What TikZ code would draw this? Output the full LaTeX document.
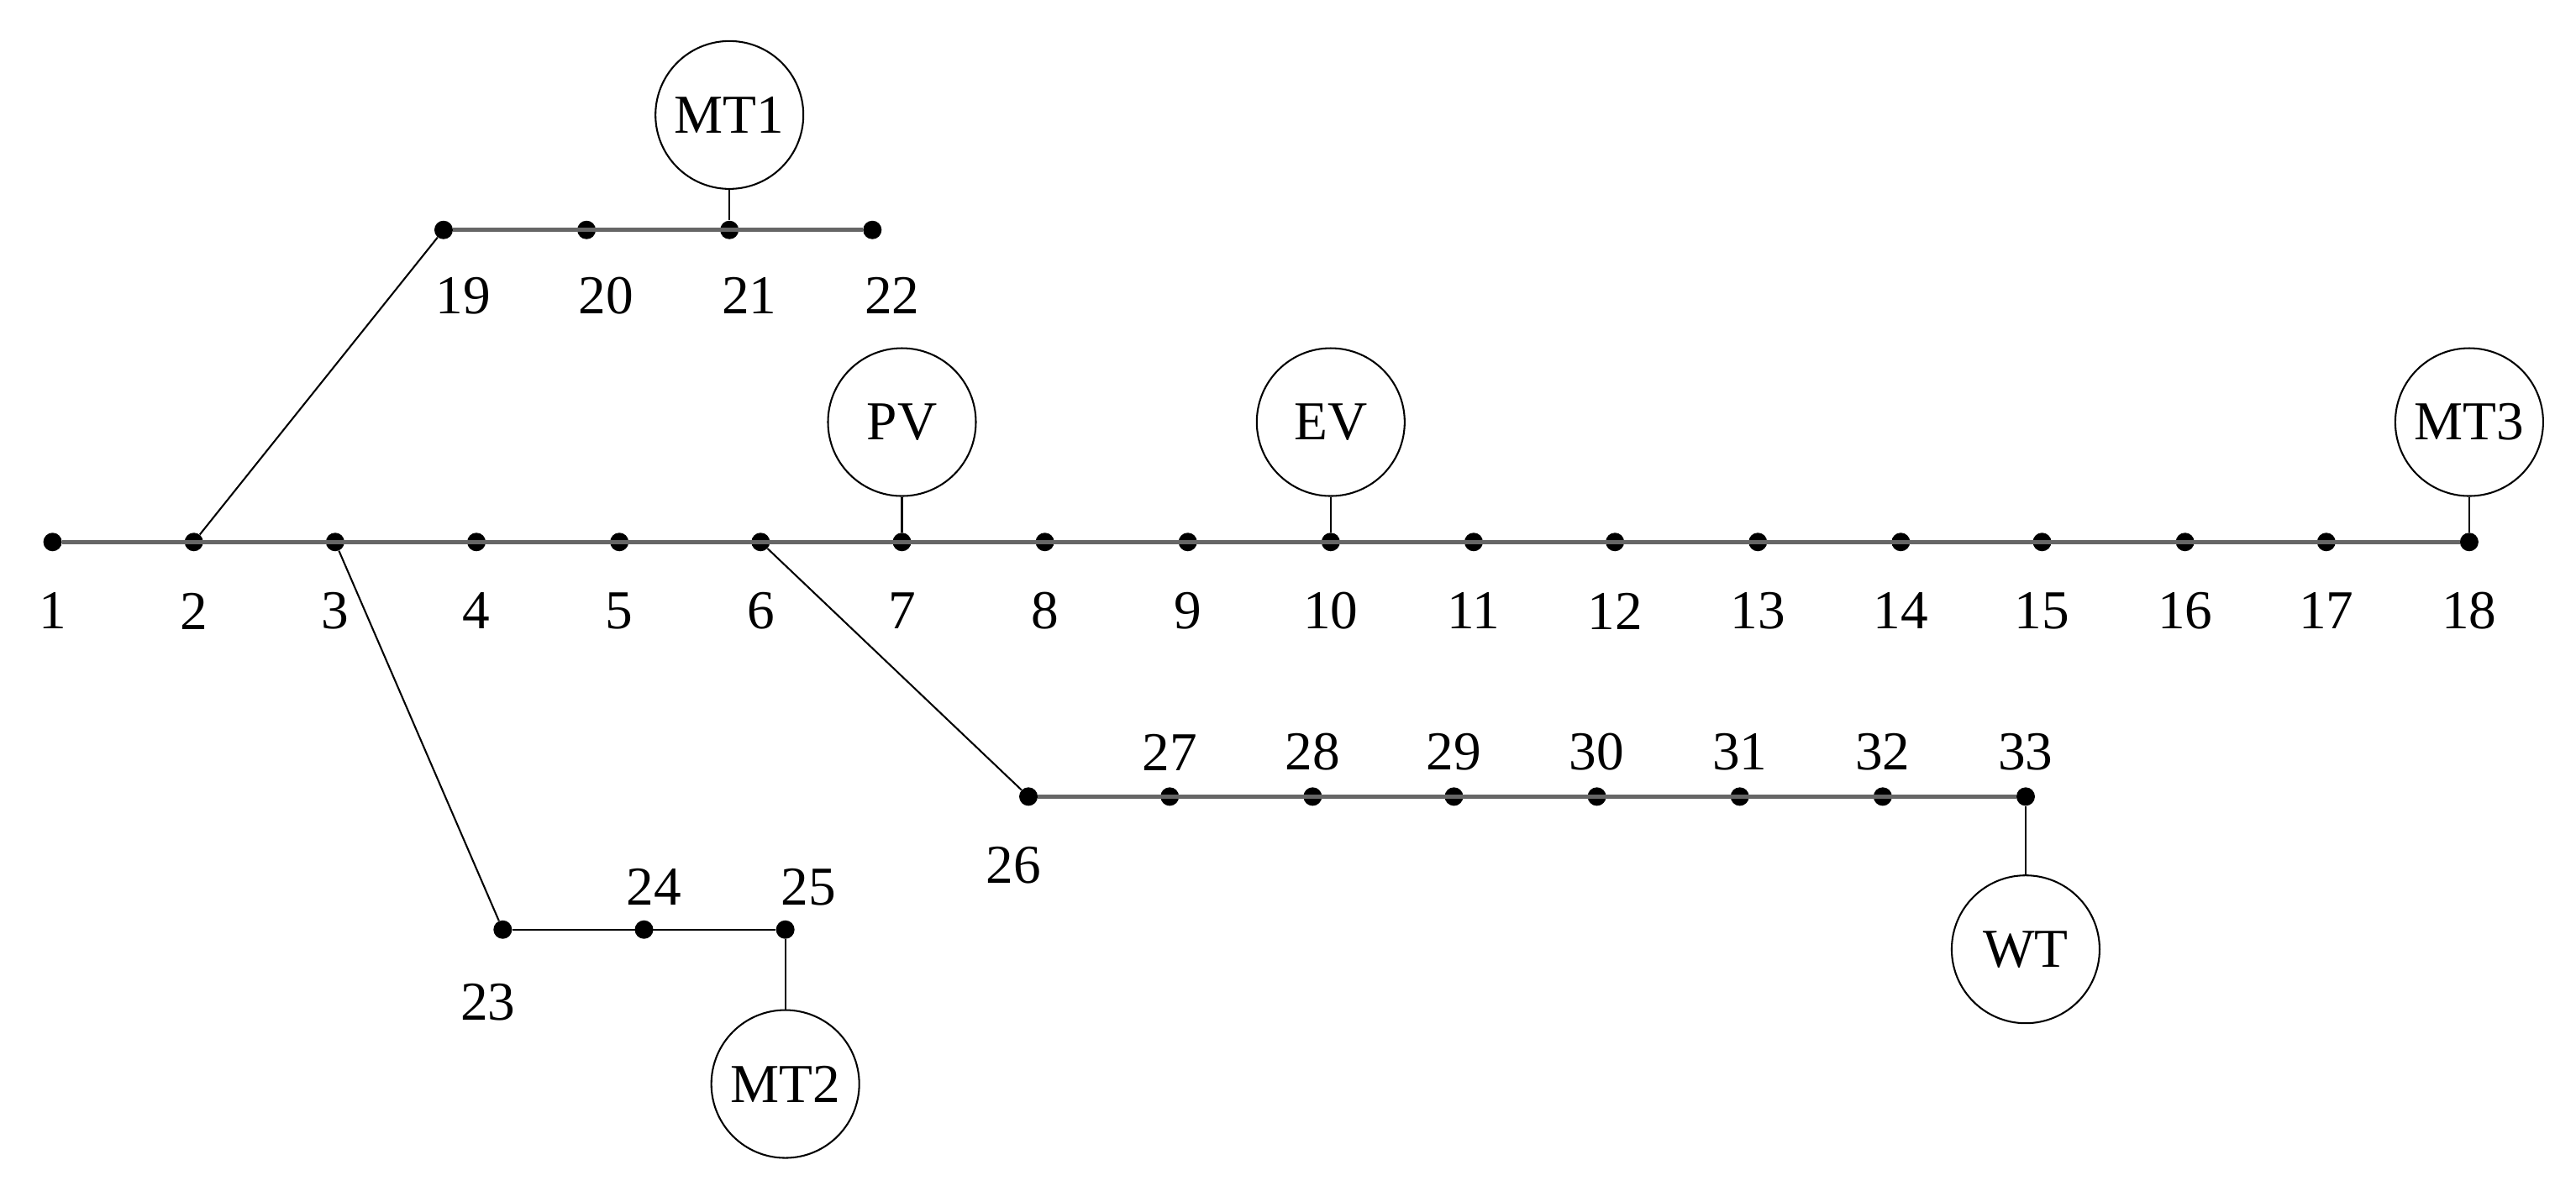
\documentclass[tikz,border=0pt]{standalone}
\usepackage{fontspec}
\setmainfont{Liberation Serif}
\begin{document}
\begin{tikzpicture}[x=0.04cm,y=-0.04cm,
  bus/.style={circle,fill=black,inner sep=0pt,minimum size=0.45cm},
  lab/.style={font=\fontsize{38}{40}\selectfont,inner sep=0pt},
  gen/.style={circle,draw=black,line width=1.2pt,minimum size=3.6cm,inner sep=0pt,font=\fontsize{38}{40}\selectfont},
  trunk/.style={draw=black!60,line width=3pt},
  feed/.style={draw=black,line width=1.2pt}]
\useasboundingbox (0,0) rectangle (1568,722);
% main bus
\foreach \i/\x in {1/32,2/118,3/204,4/290,5/377,6/463,7/549,8/636,9/723,10/810,11/897,12/983,13/1070,14/1157,15/1243,16/1330,17/1416,18/1503}{
  \node[bus] (n\i) at (\x,330) {};
  \node[lab] at (\x,372) {\i};}
\draw[trunk] (n1) -- (n18);
% 19-22
\foreach \i/\x in {19/270,20/357,21/444,22/531}{
  \node[bus] (n\i) at (\x,140) {};
  \node[lab] at (\x+12,180) {\i};}
\draw[trunk] (n19) -- (n22);
% 26-33
\foreach \i/\x in {26/626,27/712,28/799,29/885,30/972,31/1059,32/1146,33/1233}{
  \node[bus] (n\i) at (\x,485) {};}
\foreach \i/\x in {27/712,28/799,29/885,30/972,31/1059,32/1146,33/1233}{
  \node[lab] at (\x,458) {\i};}
\node[lab] at (617,527) {26};
\draw[trunk] (n26) -- (n33);
% 23-25
\foreach \i/\x in {23/306,24/392,25/478}{
  \node[bus] (n\i) at (\x,566) {};}
\node[lab] at (398,540) {24};
\node[lab] at (492,540) {25};
\node[lab] at (297,610) {23};
\draw[feed] (n23) -- (n25);
% feeders
\draw[feed] (n2) -- (n19);
\draw[feed] (n3) -- (n23);
\draw[feed] (n6) -- (n26);
% generators
\node[gen] (mt1) at (444,70) {MT1};
\node[gen] (pv) at (549,257) {PV};
\node[gen] (ev) at (810,257) {EV};
\node[gen] (mt3) at (1503,257) {MT3};
\node[gen] (wt) at (1233,578) {WT};
\node[gen] (mt2) at (478,660) {MT2};
\draw[feed] (mt1) -- (n21);
\draw[feed] (pv) -- (n7);
\draw[feed] (ev) -- (n10);
\draw[feed] (mt3) -- (n18);
\draw[feed] (wt) -- (n33);
\draw[feed] (mt2) -- (n25);
\end{tikzpicture}
\end{document}
